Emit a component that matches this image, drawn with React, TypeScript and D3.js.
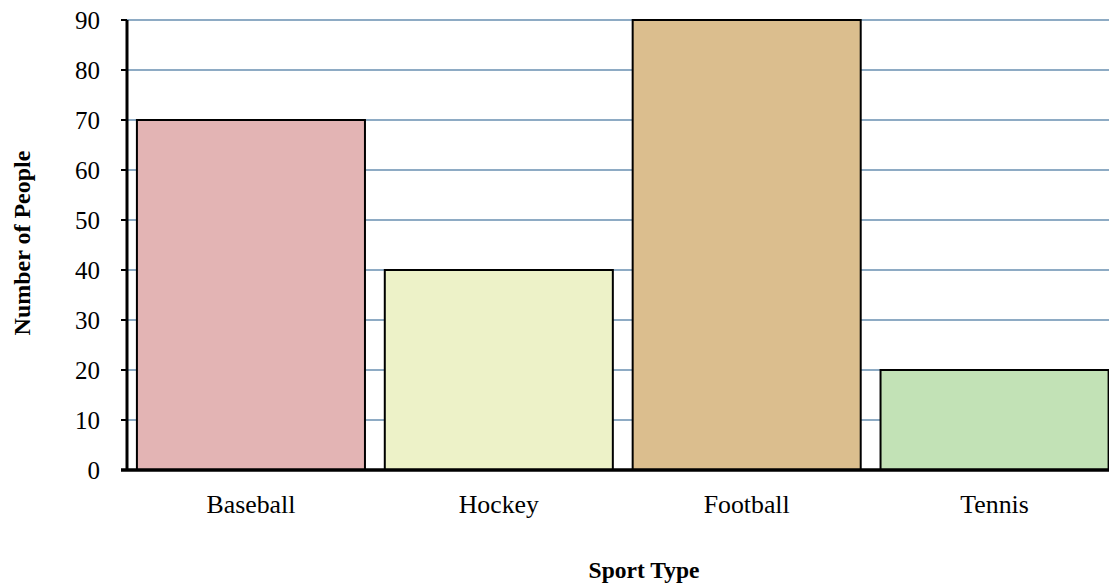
import React from "react";
import * as d3 from "d3";

const categories = ["Baseball", "Hockey", "Football", "Tennis"];
const values = [70, 40, 90, 20];
const colors = ["#e3b4b4", "#edf2c8", "#dbbe8e", "#c2e2b6"];
const yTicks = [0, 10, 20, 30, 40, 50, 60, 70, 80, 90];

const W = 1109;
const H = 585;
const left = 127;
const top = 20;
const bottom = 470;
const right = 1118.5;

export default function App() {
  const x = d3.scaleBand<string>().domain(categories).range([left, right]).paddingInner(0.08).paddingOuter(0.04);
  const y = d3.scaleLinear().domain([0, 90]).range([bottom, top]);
  const font = "'Liberation Serif', 'Times New Roman', serif";
  return (
    <svg width={W} height={H} style={{ position: "absolute", left: 0, top: 0 }}>
      <rect width={W} height={H} fill="#fff" />
      {yTicks.slice(1).map((t) => (
        <line key={t} x1={left} x2={W} y1={y(t)} y2={y(t)} stroke="#8eabc4" strokeWidth={2} />
      ))}
      {categories.map((c, i) => (
        <rect
          key={c}
          x={x(c)}
          y={y(values[i])}
          width={x.bandwidth()}
          height={bottom - y(values[i])}
          fill={colors[i]}
          stroke="#000"
          strokeWidth={2}
        />
      ))}
      <line x1={left} x2={left} y1={top} y2={bottom + 1} stroke="#000" strokeWidth={3} />
      <line x1={121} x2={W} y1={bottom} y2={bottom} stroke="#000" strokeWidth={3.5} />
      {yTicks.map((t) => (
        <g key={t}>
          <line x1={121} x2={left} y1={y(t)} y2={y(t)} stroke="#000" strokeWidth={2} />
          <text x={100} y={y(t)} dy="0.37em" textAnchor="end" fontFamily={font} fontSize={25} fill="#000">
            {t}
          </text>
        </g>
      ))}
      {categories.map((c) => (
        <text key={c} x={(x(c) as number) + x.bandwidth() / 2} y={513} textAnchor="middle" fontFamily={font} fontSize={25.8} fill="#000">
          {c}
        </text>
      ))}
      <text x={644} y={578} textAnchor="middle" fontFamily={font} fontSize={23.5} fontWeight="bold" fill="#000">
        Sport Type
      </text>
      <text
        transform={`translate(30,243) rotate(-90)`}
        textAnchor="middle"
        fontFamily={font}
        fontSize={24}
        fontWeight="bold"
        fill="#000"
      >
        Number of People
      </text>
    </svg>
  );
}
